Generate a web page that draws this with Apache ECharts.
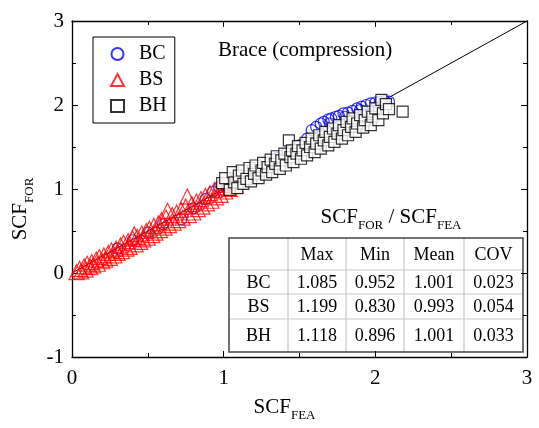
<!DOCTYPE html>
<html>
<head>
<meta charset="utf-8">
<script src="https://cdn.jsdelivr.net/npm/echarts@6/dist/echarts.min.js"></script>
<style>
  html, body { margin: 0; padding: 0; background: #fff; }
  #chart { width: 539px; height: 428px; }
</style>
</head>
<body>
<div id="chart"></div>
<script>
// SCF from formula (y) vs SCF from finite element analysis (x), brace in compression
const seriesNames = ['BC', 'BS', 'BH'];

const bcPoints = [
  [0.30,0.29],[0.40,0.39],[0.50,0.48],[0.60,0.58],[0.72,0.64],[0.80,0.77],[0.88,0.88],
  [0.93,0.97],[0.97,1.02],[1.02,1.03],[1.06,1.07],[1.10,1.12],[1.15,1.16],[1.20,1.20],
  [1.25,1.26],[1.30,1.31],[1.35,1.37],[1.40,1.41],[1.45,1.47],[1.50,1.52],[1.55,1.60],
  [1.58,1.70],[1.61,1.74],[1.64,1.78],[1.66,1.80],[1.69,1.83],[1.71,1.84],[1.74,1.86],
  [1.76,1.87],[1.79,1.90],[1.82,1.91],[1.85,1.93],[1.88,1.96],[1.91,1.98],[1.94,2.00],
  [1.97,2.02],[2.00,2.03],[2.03,2.04],[2.06,2.05],[2.09,2.04],[1.70,1.78],[1.80,1.86],
  [1.90,1.94],[2.00,1.97]
];

const bsPoints = [
  [0.03,0.01],[0.05,0.05],[0.06,0.02],[0.08,0.08],[0.09,0.04],[0.10,0.11],[0.12,0.07],
  [0.13,0.13],[0.14,0.09],[0.16,0.16],[0.17,0.11],[0.18,0.19],[0.20,0.14],[0.21,0.21],
  [0.22,0.16],[0.24,0.24],[0.25,0.18],[0.26,0.27],[0.28,0.21],[0.29,0.29],[0.30,0.24],
  [0.32,0.33],[0.33,0.26],[0.34,0.36],[0.36,0.29],[0.37,0.38],[0.38,0.31],[0.40,0.41],
  [0.41,0.46],[0.42,0.34],[0.43,0.43],[0.45,0.37],[0.46,0.47],[0.47,0.40],[0.49,0.50],
  [0.50,0.42],[0.51,0.53],[0.53,0.45],[0.54,0.56],[0.55,0.48],[0.57,0.59],[0.58,0.51],
  [0.59,0.63],[0.61,0.54],[0.62,0.66],[0.63,0.74],[0.64,0.57],[0.66,0.69],[0.67,0.60],
  [0.69,0.72],[0.70,0.63],[0.72,0.75],[0.73,0.66],[0.75,0.79],[0.76,0.91],[0.77,0.69],
  [0.79,0.82],[0.80,0.72],[0.82,0.85],[0.83,0.76],[0.85,0.88],[0.86,0.79],[0.88,0.92],
  [0.89,0.83],[0.91,0.95],[0.92,0.86],[0.94,0.99],[0.95,0.90],[0.97,1.02],[0.98,0.93],
  [1.00,1.05],[1.01,0.97],[1.03,1.08],[1.04,1.00],[1.06,1.10],[1.08,1.04]
];

const bhPoints = [
  [0.99,1.07],[1.01,1.13],[1.04,0.99],[1.06,1.20],[1.07,1.08],[1.09,1.01],[1.10,1.16],
  [1.12,1.22],[1.13,1.06],[1.15,1.12],[1.17,1.25],[1.18,1.09],[1.20,1.18],[1.21,1.28],
  [1.23,1.13],[1.25,1.22],[1.26,1.31],[1.28,1.17],[1.29,1.26],[1.31,1.35],[1.32,1.20],
  [1.34,1.30],[1.35,1.39],[1.37,1.24],[1.38,1.34],[1.40,1.42],[1.41,1.28],[1.43,1.58],
  [1.44,1.38],[1.45,1.46],[1.46,1.32],[1.48,1.42],[1.49,1.51],[1.51,1.36],[1.52,1.46],
  [1.54,1.55],[1.55,1.40],[1.57,1.50],[1.58,1.60],[1.60,1.44],[1.61,1.54],[1.63,1.64],
  [1.64,1.48],[1.66,1.58],[1.67,1.68],[1.69,1.52],[1.70,1.62],[1.72,1.72],[1.73,1.56],
  [1.75,1.66],[1.76,1.76],[1.78,1.60],[1.79,1.70],[1.81,1.80],[1.82,1.64],[1.84,1.74],
  [1.85,1.84],[1.87,1.68],[1.88,1.78],[1.90,1.88],[1.92,1.73],[1.93,1.82],[1.95,1.92],
  [1.97,1.76],[1.98,1.86],[2.00,1.96],[2.02,1.82],[2.04,2.06],[2.05,1.90],[2.07,2.01],
  [2.09,1.95],[2.18,1.92]
];

// 1:1 reference line
const diagonal = [[0,0],[3,3]];

// Ratio statistics table
const tableHeader = ['', 'Max', 'Min', 'Mean', 'COV'];
const tableRows = [
  ['BC', '1.085', '0.952', '1.001', '0.023'],
  ['BS', '1.199', '0.830', '0.993', '0.054'],
  ['BH', '1.118', '0.896', '1.001', '0.033']
];

const FONT = '"Liberation Serif", "Times New Roman", serif';
const subRich = {
  m: { fontFamily: FONT, fontSize: 21, color: '#000', lineHeight: 30, verticalAlign: 'middle' },
  s: { fontFamily: FONT, fontSize: 13, color: '#000', lineHeight: 10, verticalAlign: 'bottom' }
};

function axisCommon(extra) {
  return Object.assign({
    type: 'value',
    axisLine: { show: true, onZero: false, lineStyle: { color: '#000', width: 1.3 } },
    axisTick: { show: true, inside: true, length: 6, lineStyle: { color: '#000', width: 1 } },
    minorTick: { show: true, splitNumber: 2, length: 4, lineStyle: { color: '#000', width: 1 } },
    splitLine: { show: false },
    minorSplitLine: { show: false },
    axisLabel: { fontFamily: FONT, fontSize: 21, color: '#000' }
  }, extra);
}

// Table layout (pixel geometry of the annotation box)
const colX = [229, 288, 346, 404, 464, 523];
const rowY = [238, 270, 294, 319, 352];

function buildTable() {
  const els = [];
  const allRows = [tableHeader].concat(tableRows);
  for (let i = 1; i < colX.length - 1; i++) {
    els.push({ type: 'line', shape: { x1: colX[i], y1: rowY[0], x2: colX[i], y2: rowY[rowY.length - 1] },
      style: { stroke: '#c8c8c8', lineWidth: 1.2 } });
  }
  for (let j = 1; j < rowY.length - 1; j++) {
    els.push({ type: 'line', shape: { x1: colX[0], y1: rowY[j], x2: colX[colX.length - 1], y2: rowY[j] },
      style: { stroke: '#c8c8c8', lineWidth: 1.2 } });
  }
  els.push({ type: 'rect', shape: { x: colX[0], y: rowY[0], width: colX[colX.length - 1] - colX[0], height: rowY[rowY.length - 1] - rowY[0] },
    style: { fill: 'none', stroke: '#444', lineWidth: 1.5 } });
  allRows.forEach((row, r) => {
    row.forEach((txt, c) => {
      if (!txt) return;
      els.push({ type: 'text', x: (colX[c] + colX[c + 1]) / 2, y: (rowY[r] + rowY[r + 1]) / 2 + 1,
        style: { text: txt, fontFamily: FONT, fontSize: 18, fill: '#000', align: 'center', verticalAlign: 'middle' } });
    });
  });
  els.push({ type: 'text', x: 391, y: 217,
    style: { text: '{m|SCF}{s|FOR}{m| / SCF}{s|FEA}', rich: subRich, align: 'center', verticalAlign: 'middle' } });
  return els;
}

const chart = echarts.init(document.getElementById('chart'), null, { renderer: 'canvas' });

chart.setOption({
  animation: false,
  backgroundColor: '#fff',
  grid: { left: 72, right: 12, top: 21, bottom: 71, containLabel: false },
  title: {
    text: 'Brace (compression)',
    left: 213, top: 35,
    textStyle: { fontFamily: FONT, fontSize: 21, fontWeight: 'normal', color: '#000' }
  },
  legend: {
    data: seriesNames,
    orient: 'vertical',
    left: 93, top: 37,
    padding: [7, 8, 7, 17],
    itemWidth: 13, itemHeight: 12, itemGap: 6,
    borderColor: '#000', borderWidth: 1,
    textStyle: { fontFamily: FONT, fontSize: 20, color: '#000', lineHeight: 18, padding: [0, 0, 0, 10] }
  },
  xAxis: [
    axisCommon({ min: 0, max: 3, interval: 1, position: 'bottom',
      name: '{m|SCF}{s|FEA}', nameLocation: 'middle', nameGap: 35,
      nameTextStyle: { rich: subRich, padding: [0, 30, 0, 0] },
      axisLabel: { fontFamily: FONT, fontSize: 21, color: '#000', margin: 11 } }),
    axisCommon({ min: 0, max: 3, interval: 1, position: 'top', axisLabel: { show: false } })
  ],
  yAxis: [
    axisCommon({ min: -1, max: 3, interval: 1, position: 'left',
      name: '{m|SCF}{s|FOR}', nameLocation: 'middle', nameGap: 36, nameRotate: 90,
      nameTextStyle: { rich: subRich, padding: [0, 40, 0, 0] },
      axisLabel: { fontFamily: FONT, fontSize: 21, color: '#000', margin: 8 } }),
    axisCommon({ min: -1, max: 3, interval: 1, position: 'right', axisLabel: { show: false } })
  ],
  graphic: buildTable(),
  series: [
    { type: 'line', data: diagonal, xAxisIndex: 0, yAxisIndex: 0, symbol: 'none', silent: true,
      lineStyle: { color: '#000', width: 1 }, z: 1 },
    { name: 'BC', type: 'scatter', data: bcPoints, xAxisIndex: 0, yAxisIndex: 0, symbol: 'circle', symbolSize: 11,
      itemStyle: { color: 'rgba(255,255,255,0)', borderColor: '#0000ff', borderWidth: 1.2 }, z: 2 },
    { name: 'BS', type: 'scatter', data: bsPoints, xAxisIndex: 0, yAxisIndex: 0, symbol: 'triangle', symbolSize: 15,
      itemStyle: { color: 'rgba(255,255,255,0)', borderColor: '#ff0000', borderWidth: 1.2 }, z: 3 },
    { name: 'BH', type: 'scatter', data: bhPoints, xAxisIndex: 0, yAxisIndex: 0, symbol: 'rect', symbolSize: 11,
      itemStyle: { color: '#ffffff', borderColor: '#000000', borderWidth: 1.2 }, z: 4 }
  ]
});
</script>
</body>
</html>
